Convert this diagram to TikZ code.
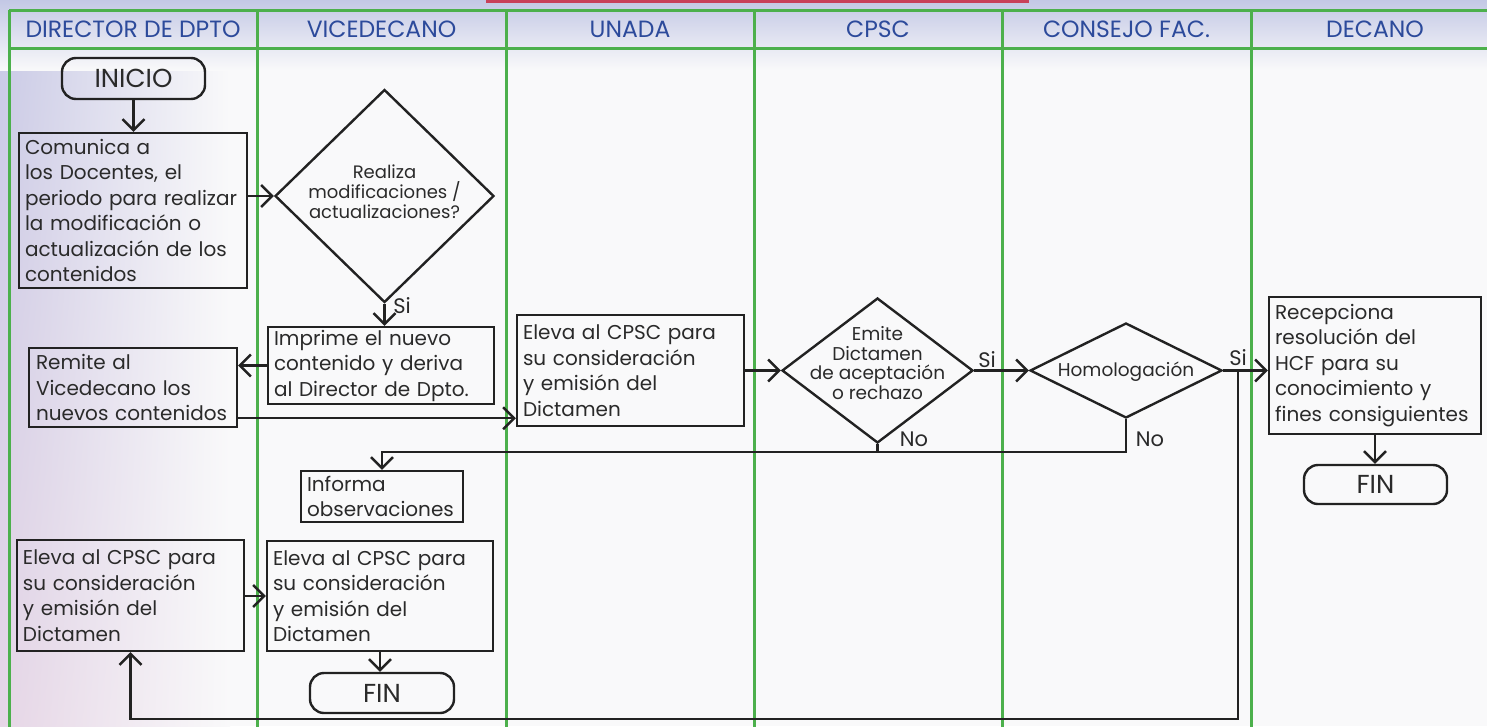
\documentclass[tikz,border=0pt]{standalone}
\usepackage{fontspec}
\setmainfont{Poppins}
\usetikzlibrary{arrows.meta,shapes.geometric,calc,shadings}
\definecolor{lane}{HTML}{4CB04C}
\definecolor{ink}{HTML}{222222}
\definecolor{txt}{HTML}{2A2A2A}
\definecolor{hdr}{HTML}{2C4A9B}
\definecolor{bgw}{HTML}{F9F9FA}
\definecolor{lav}{HTML}{C8CAE6}
\definecolor{pinkish}{HTML}{E6D6E6}
\definecolor{topc}{HTML}{C3C8E5}
\definecolor{redl}{HTML}{C8405A}
\tikzset{
  proc/.style={draw=ink, line width=2.4pt, align=left, inner xsep=6pt, inner ysep=0pt,
    text=txt, font=\fontsize{20}{25.5}\selectfont},
  dia/.style={diamond, draw=ink, line width=2.4pt, inner sep=0pt},
  diatext/.style={align=center, inner sep=0pt, text=txt, font=\fontsize{18}{20}\selectfont},
  term/.style={draw=ink, line width=2.4pt, rounded corners=14pt, inner sep=0pt,
    text=txt, font=\fontsize{26}{28}\selectfont},
  lbl/.style={inner sep=0pt, text=txt, font=\fontsize{21}{22}\selectfont},
  hlbl/.style={inner sep=0pt, text=hdr, font=\fontsize{23.5}{25}\selectfont},
  conn/.style={draw=ink, line width=2.4pt},
  arr/.style={conn, -{Straight Barb[length=11pt,width=22pt]}},
  lanel/.style={draw=lane, line width=3pt}
}
\begin{document}
\begin{tikzpicture}[x=1pt,y=-1pt]
\useasboundingbox (0,0) rectangle (1487,726);
% background
\fill[bgw] (0,0) rectangle (1487,726);
\shade[upper left=lav, lower left=pinkish, upper right=bgw, lower right=bgw] (0,0) rectangle (230,726);
\shade[top color=topc, bottom color=bgw] (0,0) rectangle (1487,70);
\draw[redl, line width=2.5pt] (486,1.5) -- (1029,1.5);
% lanes
\draw[lanel] (9,10) -- (1500,10);
\draw[lanel] (9,48) -- (1500,48);
\foreach \x in {9,257,506,754,1002,1251} { \draw[lanel] (\x,10) -- (\x,730); }
\node[hlbl] (h1) at (133,29) {DIRECTOR DE DPTO};
\node[hlbl] (h2) at (381.5,29) {VICEDECANO};
\node[hlbl] (h3) at (630,29) {UNADA};
\node[hlbl] (h4) at (878,29) {CPSC};
\node[hlbl] (h5) at (1126.5,29) {CONSEJO FAC.};
\node[hlbl] (h6) at (1375,29) {DECANO};
% nodes
\node[term, minimum width=143pt, minimum height=41pt] (inicio) at (133.5,78.5) {INICIO};
\node[proc, minimum width=228pt, text width=216pt, minimum height=155pt] (comunica) at (133,210.5)
  {Comunica a\\los Docentes, el\\periodo para realizar\\la modificación o\\actualización de los\\contenidos};
\node[dia, minimum width=219pt, minimum height=213pt] (d1) at (384.5,196) {};
\node[diatext] (d1t) at (384.5,192) {Realiza\\modificaciones /\\actualizaciones?};
\node[proc, minimum width=226pt, text width=214pt, minimum height=77pt] (imprime) at (381,365.5)
  {Imprime el nuevo\\contenido y deriva\\al Director de Dpto.};
\node[proc, minimum width=208pt, text width=194pt, inner xsep=7pt, minimum height=79pt] (remite) at (133,387.5)
  {Remite al\\Vicedecano los\\nuevos contenidos};
\node[proc, minimum width=227pt, text width=215pt, minimum height=111pt] (elevau) at (630.5,370.5)
  {Eleva al CPSC para\\su consideración\\y emisión del\\Dictamen};
\node[dia, minimum width=191pt, minimum height=145pt] (d2) at (877.5,370.5) {};
\node[diatext, font=\fontsize{18.5}{19.5}\selectfont] (d2t) at (877.5,363) {Emite\\Dictamen\\de aceptación\\o rechazo};
\node[dia, minimum width=192pt, minimum height=95pt] (homo) at (1126,370.5) {};
\node[diatext, font=\fontsize{18.5}{20}\selectfont] (homot) at (1126,372) {Homologación};
\node[proc, minimum width=212pt, text width=200pt, minimum height=137pt] (recep) at (1375,365.5)
  {Recepciona\\resolución del\\HCF para su\\conocimiento y\\fines consiguientes};
\node[term, minimum width=143pt, minimum height=39pt] (fin2) at (1375.5,484.5) {FIN};
\node[proc, minimum width=162pt, text width=150pt, minimum height=51pt] (informa) at (382,496.5)
  {Informa\\observaciones};
\node[proc, minimum width=227pt, text width=215pt, minimum height=111pt] (elevad) at (130.5,595.5)
  {Eleva al CPSC para\\su consideración\\y emisión del\\Dictamen};
\node[proc, minimum width=226pt, text width=214pt, minimum height=110pt] (elevav) at (380,596)
  {Eleva al CPSC para\\su consideración\\y emisión del\\Dictamen};
\node[term, minimum width=144pt, minimum height=40pt] (fin1) at (382,693) {FIN};
% coordinates
\coordinate (noy) at (0,452);
\coordinate (ret) at (1238,719);
% connectors
\draw[arr] (inicio.south) -- (inicio.south |- comunica.north);
\draw[arr] (comunica.east |- d1.west) -- (d1.west);
\draw[arr] (d1.south) -- (d1.south |- imprime.north);
\draw[arr] (imprime.west) -- (imprime.west -| remite.east);
\draw[arr] ([yshift=10pt]remite.south east) -- ([yshift=10pt]remite.south east -| elevau.west);
\draw[arr] (elevau.east) -- (d2.west);
\draw[arr] (d2.east) -- (homo.west);
\draw[arr] (homo.east) -- (homo.east -| recep.west);
\draw[arr] (d2.south) -- (d2.south |- noy) -- (informa.north |- noy) -- (informa.north);
\draw[conn] (homo.south) -- (homo.south |- noy) -- (d2.south |- noy);
\draw[arr] (homo.east -| ret) -- (ret) -- (ret -| elevad.south) -- (elevad.south);
\draw[arr] (elevad.east |- elevav.west) -- (elevav.west);
\draw[arr] (elevav.south) -- (elevav.south |- fin1.north);
\draw[arr] (recep.south) -- (recep.south |- fin2.north);
% labels
\node[lbl] (s1) at (402,306) {Si};
\node[lbl] (s2) at (987,360) {Si};
\node[lbl] (n1) at (914,439) {No};
\node[lbl] (n2) at (1150,439) {No};
\node[lbl] (s3) at (1238,358) {Si};
\end{tikzpicture}
\end{document}
